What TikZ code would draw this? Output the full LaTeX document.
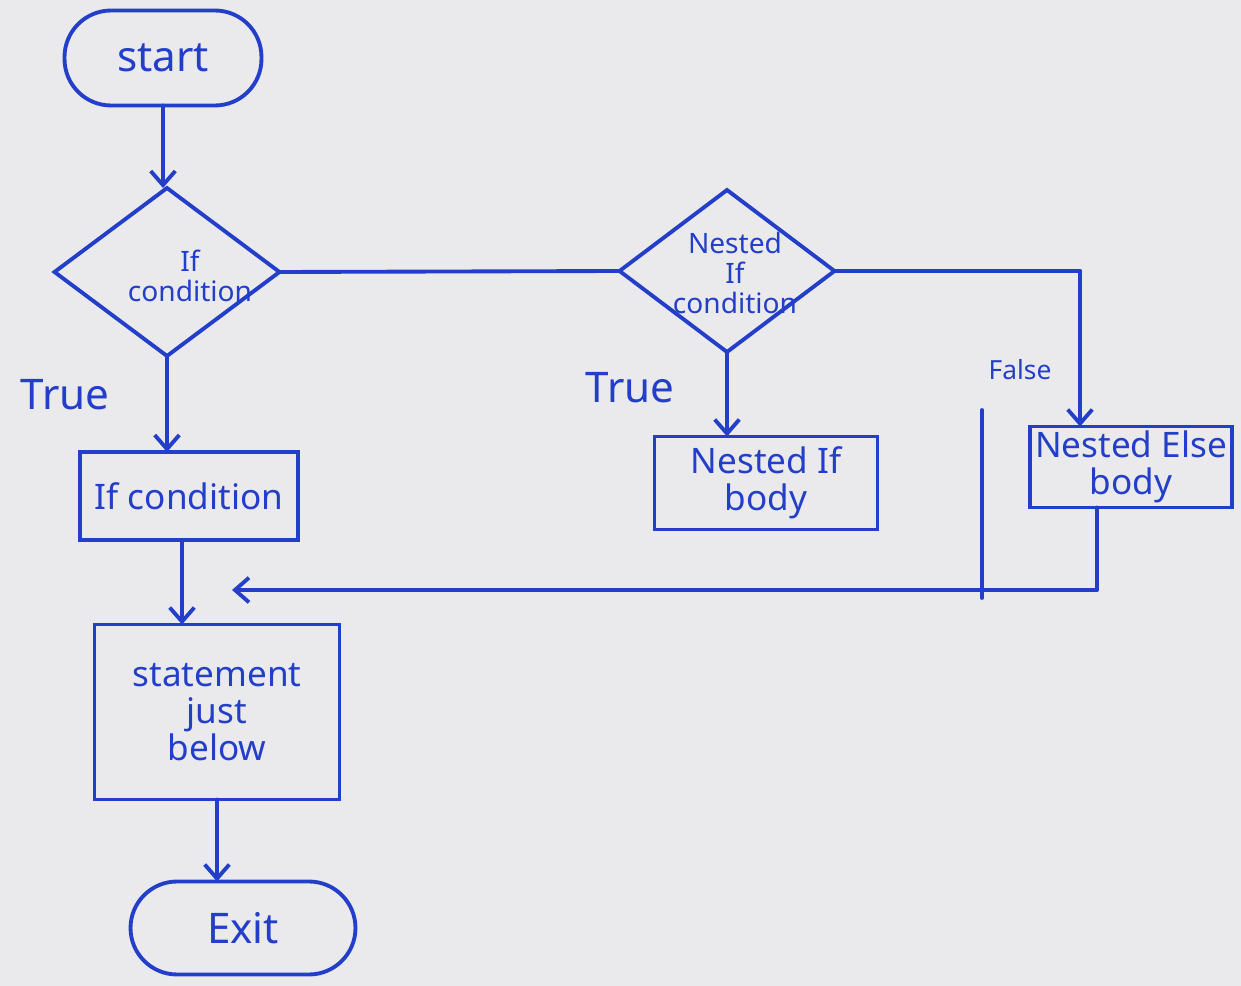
\documentclass[tikz,border=0pt]{standalone}
\usepackage{fontspec}
\setmainfont{Noto Sans}
\usetikzlibrary{shapes.geometric,arrows.meta}
\definecolor{ink}{RGB}{35,62,200}
\definecolor{paper}{RGB}{234,234,236}
\begin{document}
\begin{tikzpicture}[x=0.02cm,y=-0.02cm,
  every node/.style={text=ink,inner sep=0pt,outer sep=0pt},
  conn/.style={draw=ink,line width=2.2pt,line cap=round,line join=round},
  arr/.style={conn,-{Straight Barb[length=8pt,width=14pt,line width=2.2pt]}},
  term/.style={draw=ink,line width=2.2pt,rectangle,rounded corners=0.93cm,font=\fontsize{24}{28}\selectfont},
  box/.style={draw=ink,line width=2.2pt,rectangle,align=center,font=\fontsize{20}{21}\selectfont},
  dec/.style={draw=ink,line width=2.2pt,diamond},
  dtext/.style={align=center,font=\fontsize{16}{17}\selectfont},
  lbl/.style={font=\fontsize{24}{28}\selectfont}]
\fill[paper] (0,0) rectangle (1241,986);
\useasboundingbox (0,0) rectangle (1241,986);

% nodes
\node[term,minimum width=3.94cm,minimum height=1.9cm] (start) at (163,58) {start};
\node[dec,minimum width=4.5cm,minimum height=3.36cm] (d1) at (167,272) {};
\node[dtext] (d1t) at (190,276) {If\\condition};
\node[dec,minimum width=4.3cm,minimum height=3.24cm] (d2) at (727,271) {};
\node[dtext] (d2t) at (735,273) {Nested\\If\\condition};
\node[box,minimum width=4.36cm,minimum height=1.76cm] (b1) at (189,496) {If condition};
\node[box,minimum width=4.46cm,minimum height=1.86cm] (b2) at (766,483) {Nested If\\body};
\node[box,minimum width=4.04cm,minimum height=1.62cm] (b3) at (1131,467) {Nested Else\\body};
\node[box,minimum width=4.9cm,minimum height=3.5cm] (st) at (217,712) {statement\\just\\below};
\node[term,minimum width=4.5cm,minimum height=1.86cm] (exit) at (243,928) {Exit};

\node[lbl] (t1) at (65,395) {True};
\node[lbl] (t2) at (630,388) {True};
\node[font=\fontsize{15}{16}\selectfont] (f1) at (1020,370) {False};

% coordinates
\coordinate (c1) at (1080,271);
\coordinate (j1) at (1097,590);
\coordinate (tip) at (232,590);
\coordinate (s1) at (982,410);
\coordinate (s2) at (982,598);

% connectors
\draw[arr] (start.south) -- (start.south |- d1.north);
\draw[arr] (d1.south) -- (d1.south |- b1.north);
\draw[conn] (d1.east) -- (d2.west);
\draw[arr] (d2.south) -- (d2.south |- b2.north);
\draw[conn] (d2.east) -- (c1);
\draw[arr] (c1) -- (c1 |- b3.north);
\draw[arr] ([xshift=-0.14cm]b1.south) -- ([xshift=-0.14cm]b1.south |- st.north);
\draw[arr] (b3.south -| j1) -- (j1) -- (tip);
\draw[conn] (s1) -- (s2);
\draw[arr] (st.south) -- (st.south |- exit.north);
\end{tikzpicture}
\end{document}
